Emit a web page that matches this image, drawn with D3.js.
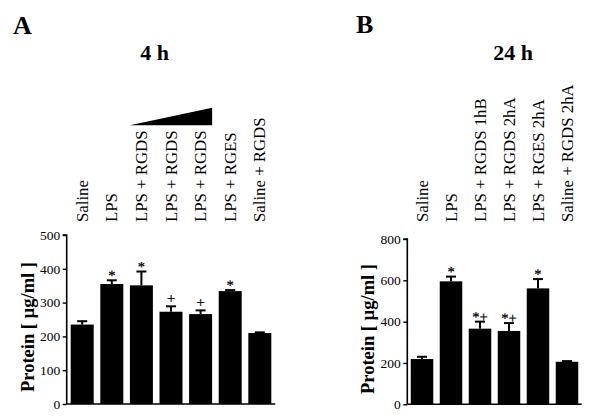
<!DOCTYPE html>
<html>
<head>
<meta charset="utf-8">
<script src="https://cdn.jsdelivr.net/npm/d3@7"></script>
<style>
  html, body { margin: 0; padding: 0; background: #fff; }
  svg { display: block; }
  text { font-family: "Liberation Serif", "Times New Roman", serif; fill: #000; }
</style>
</head>
<body>
<svg id="chart" width="600" height="417"></svg>
<script>
// ---- Data ----
const catsA = ["Saline", "LPS", "LPS + RGDS", "LPS + RGDS", "LPS + RGDS", "LPS + RGES", "Saline + RGDS"];
const meansA = [235, 355, 351, 273, 266, 334, 210];
const errA = [10, 11, 41, 16, 11, 3, 2];
const marksA = ["", "*", "*", "+", "+", "*", ""];
const ticksA = [0, 100, 200, 300, 400, 500];

const catsB = ["Saline", "LPS", "LPS + RGDS 1hB", "LPS + RGDS 2hA", "LPS + RGES 2hA", "Saline + RGDS 2hA"];
const meansB = [219, 595, 366, 355, 561, 206];
const errB = [11, 23, 34, 38, 45, 3];
const marksB = ["", "*", "*+", "*+", "*", ""];
const ticksB = [0, 200, 400, 600, 800];

const yLabel = "Protein [ µg/ml ]";

const svg = d3.select("#chart");

function panel(cfg) {
  const g = svg.append("g");
  const n = cfg.cats.length;
  const x = d3.scaleBand().domain(d3.range(n))
    .range([cfg.x0, cfg.x1]).paddingInner(cfg.pi).paddingOuter(cfg.po);
  const y = d3.scaleLinear().domain([0, cfg.ymax]).range([cfg.yBottom, cfg.yTop]);

  // bars
  g.selectAll("rect.bar").data(cfg.means).join("rect")
    .attr("class", "bar")
    .attr("x", (d, i) => x(i))
    .attr("width", x.bandwidth())
    .attr("y", d => y(d))
    .attr("height", d => y(0) - y(d))
    .attr("fill", "#000");

  // error bars (upper only) and significance marks
  const capW = 10;
  const markG = g.append("g").style("opacity", 0.999);
  cfg.means.forEach((m, i) => {
    const cx = x(i) + x.bandwidth() / 2;
    const top = y(m + cfg.err[i]);
    g.append("line").attr("x1", cx).attr("x2", cx).attr("y1", y(m)).attr("y2", top)
      .attr("stroke", "#000").attr("stroke-width", 2);
    g.append("line").attr("x1", cx - capW / 2).attr("x2", cx + capW / 2).attr("y1", top).attr("y2", top)
      .attr("stroke", "#000").attr("stroke-width", 2);
    if (cfg.marks[i]) {
      const ty = top - (cfg.marks[i] === "+" ? 3 : 0);
      markG.append("text")
        .attr("transform", `translate(${cx},${ty}) rotate(0.05)`)
        .attr("text-anchor", "middle").attr("font-size", 14.5)
        .attr("stroke", "#000").attr("stroke-width", 0.25)
        .text(cfg.marks[i]);
    }
  });

  // axes
  const yAxis = d3.axisLeft(y).tickValues(cfg.ticks).tickSize(4).tickPadding(2.5).tickFormat(d3.format("d"));
  const ya = g.append("g").attr("transform", `translate(${cfg.x0},0)`).call(yAxis);
  ya.select(".domain").attr("stroke-width", 1.6).attr("d", `M-4,${cfg.yTop}H0V${cfg.yBottom}`);
  ya.selectAll(".tick line").attr("stroke-width", 1.4);
  ya.selectAll(".tick text").attr("font-family", "Liberation Serif, serif").attr("font-size", 13.5).attr("fill", "#000");

  g.append("line").attr("x1", cfg.x0).attr("x2", cfg.x1).attr("y1", cfg.yBottom).attr("y2", cfg.yBottom)
    .attr("stroke", "#000").attr("stroke-width", 1.6);

  // category labels
  cfg.cats.forEach((c, i) => {
    const cx = x(i) + x.bandwidth() / 2;
    g.append("text")
      .attr("transform", `translate(${cx},${cfg.labelY}) rotate(-90)`)
      .attr("dy", "0.33em")
      .attr("font-size", 16.8)
      .text(c);
  });

  // y axis title
  g.append("text")
    .attr("transform", `translate(${cfg.ylabX},${cfg.ylabY}) rotate(-90)`)
    .attr("text-anchor", "middle")
    .attr("font-size", 18.5).attr("font-weight", "bold")
    .text(yLabel);

  // panel letter and title
  g.append("text").attr("x", cfg.letterX).attr("y", cfg.letterY)
    .attr("font-size", 26).attr("font-weight", "bold").text(cfg.letter);
  g.append("text").attr("x", cfg.titleX).attr("y", 60).attr("text-anchor", "middle")
    .attr("font-size", 22).attr("font-weight", "bold").text(cfg.title);

  return { g, x, y };
}

const A = panel({
  cats: catsA, means: meansA, err: errA, marks: marksA, ticks: ticksA, ymax: 500,
  x0: 66.7, x1: 275.3, pi: 0.223, po: 0.135, yBottom: 404, yTop: 235,
  labelY: 222, ylabX: 34.3, ylabY: 327, letter: "A", letterX: 13, letterY: 34,
  title: "4 h", titleX: 154.7
});

// dose triangle over the three LPS + RGDS bars
const tL = A.x(2), tR = A.x(4) + A.x.bandwidth();
A.g.append("path")
  .attr("d", `M${tL},125.3L${tR},107.7L${tR},125.3Z`)
  .attr("fill", "#000");

panel({
  cats: catsB, means: meansB, err: errB, marks: marksB, ticks: ticksB, ymax: 800,
  x0: 407.3, x1: 581.7, pi: 0.224, po: 0.119, yBottom: 404.3, yTop: 239,
  labelY: 222, ylabX: 374, ylabY: 329, letter: "B", letterX: 356, letterY: 32.5,
  title: "24 h", titleX: 513
});
</script>
</body>
</html>
